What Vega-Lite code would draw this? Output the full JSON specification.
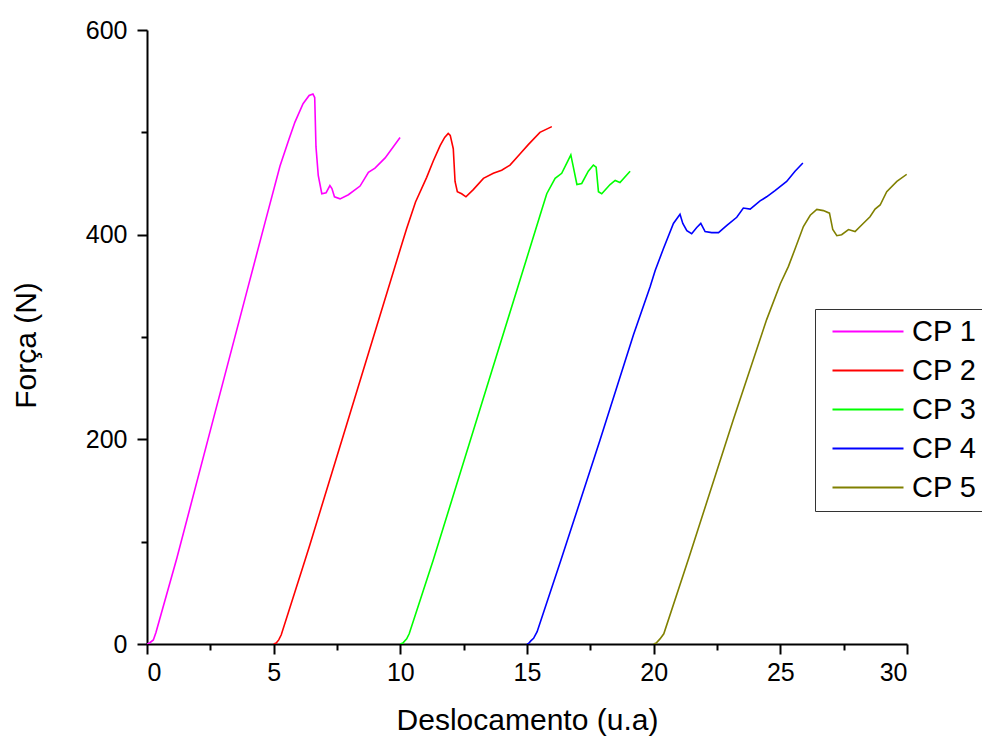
{
  "$schema": "https://vega.github.io/schema/vega-lite/v6.json",
  "autosize": {"type": "none"},
  "width": 760,
  "height": 614,
  "padding": {"left": 147, "top": 30, "right": 75, "bottom": 94},
  "background": "white",
  "config": {"view": {"stroke": null}},
  "data": {"values": [
    {"s": "CP 1", "x": 0, "y": 0}, {"s": "CP 1", "x": 0.1, "y": 1}, {"s": "CP 1", "x": 0.25, "y": 4}, {"s": "CP 1", "x": 0.35, "y": 11},
    {"s": "CP 1", "x": 1.18, "y": 84}, {"s": "CP 1", "x": 2.62, "y": 220}, {"s": "CP 1", "x": 4.0, "y": 350}, {"s": "CP 1", "x": 4.66, "y": 412},
    {"s": "CP 1", "x": 5.25, "y": 467}, {"s": "CP 1", "x": 5.6, "y": 493}, {"s": "CP 1", "x": 5.84, "y": 510}, {"s": "CP 1", "x": 6.16, "y": 528},
    {"s": "CP 1", "x": 6.4, "y": 536}, {"s": "CP 1", "x": 6.55, "y": 537.5}, {"s": "CP 1", "x": 6.62, "y": 534}, {"s": "CP 1", "x": 6.67, "y": 486},
    {"s": "CP 1", "x": 6.76, "y": 458}, {"s": "CP 1", "x": 6.9, "y": 440}, {"s": "CP 1", "x": 7.07, "y": 441}, {"s": "CP 1", "x": 7.22, "y": 448},
    {"s": "CP 1", "x": 7.3, "y": 445}, {"s": "CP 1", "x": 7.4, "y": 437}, {"s": "CP 1", "x": 7.62, "y": 435}, {"s": "CP 1", "x": 7.95, "y": 439},
    {"s": "CP 1", "x": 8.41, "y": 447.5}, {"s": "CP 1", "x": 8.74, "y": 461}, {"s": "CP 1", "x": 9.0, "y": 465}, {"s": "CP 1", "x": 9.4, "y": 475},
    {"s": "CP 1", "x": 9.99, "y": 495},

    {"s": "CP 2", "x": 5.0, "y": 0}, {"s": "CP 2", "x": 5.1, "y": 1}, {"s": "CP 2", "x": 5.2, "y": 4}, {"s": "CP 2", "x": 5.3, "y": 9},
    {"s": "CP 2", "x": 6.24, "y": 82}, {"s": "CP 2", "x": 6.43, "y": 97}, {"s": "CP 2", "x": 8.0, "y": 224}, {"s": "CP 2", "x": 10.0, "y": 386},
    {"s": "CP 2", "x": 10.25, "y": 406}, {"s": "CP 2", "x": 10.6, "y": 432}, {"s": "CP 2", "x": 11.04, "y": 456}, {"s": "CP 2", "x": 11.3, "y": 472},
    {"s": "CP 2", "x": 11.57, "y": 487}, {"s": "CP 2", "x": 11.75, "y": 495}, {"s": "CP 2", "x": 11.89, "y": 499}, {"s": "CP 2", "x": 11.97, "y": 497},
    {"s": "CP 2", "x": 12.09, "y": 484}, {"s": "CP 2", "x": 12.16, "y": 452}, {"s": "CP 2", "x": 12.25, "y": 442}, {"s": "CP 2", "x": 12.42, "y": 440},
    {"s": "CP 2", "x": 12.59, "y": 437}, {"s": "CP 2", "x": 12.88, "y": 444}, {"s": "CP 2", "x": 13.28, "y": 455}, {"s": "CP 2", "x": 13.67, "y": 460},
    {"s": "CP 2", "x": 14.0, "y": 463}, {"s": "CP 2", "x": 14.33, "y": 468}, {"s": "CP 2", "x": 14.73, "y": 479}, {"s": "CP 2", "x": 15.05, "y": 488},
    {"s": "CP 2", "x": 15.51, "y": 500}, {"s": "CP 2", "x": 15.98, "y": 505.6},

    {"s": "CP 3", "x": 10.0, "y": 0}, {"s": "CP 3", "x": 10.1, "y": 1}, {"s": "CP 3", "x": 10.25, "y": 5}, {"s": "CP 3", "x": 10.35, "y": 10},
    {"s": "CP 3", "x": 11.3, "y": 82}, {"s": "CP 3", "x": 13.5, "y": 258}, {"s": "CP 3", "x": 15.58, "y": 424}, {"s": "CP 3", "x": 15.78, "y": 440},
    {"s": "CP 3", "x": 16.11, "y": 455}, {"s": "CP 3", "x": 16.37, "y": 460}, {"s": "CP 3", "x": 16.57, "y": 470}, {"s": "CP 3", "x": 16.73, "y": 478},
    {"s": "CP 3", "x": 16.83, "y": 466}, {"s": "CP 3", "x": 16.97, "y": 449}, {"s": "CP 3", "x": 17.16, "y": 450}, {"s": "CP 3", "x": 17.42, "y": 462},
    {"s": "CP 3", "x": 17.62, "y": 468}, {"s": "CP 3", "x": 17.73, "y": 466}, {"s": "CP 3", "x": 17.82, "y": 442}, {"s": "CP 3", "x": 17.95, "y": 440},
    {"s": "CP 3", "x": 18.28, "y": 449}, {"s": "CP 3", "x": 18.48, "y": 453}, {"s": "CP 3", "x": 18.67, "y": 451}, {"s": "CP 3", "x": 19.07, "y": 462},

    {"s": "CP 4", "x": 15.0, "y": 0}, {"s": "CP 4", "x": 15.06, "y": 0.5}, {"s": "CP 4", "x": 15.15, "y": 3}, {"s": "CP 4", "x": 15.26, "y": 5.5},
    {"s": "CP 4", "x": 15.4, "y": 12}, {"s": "CP 4", "x": 16.34, "y": 82}, {"s": "CP 4", "x": 17.88, "y": 199}, {"s": "CP 4", "x": 19.2, "y": 302},
    {"s": "CP 4", "x": 19.86, "y": 349}, {"s": "CP 4", "x": 20.06, "y": 365}, {"s": "CP 4", "x": 20.38, "y": 386}, {"s": "CP 4", "x": 20.78, "y": 411},
    {"s": "CP 4", "x": 21.04, "y": 420}, {"s": "CP 4", "x": 21.15, "y": 411}, {"s": "CP 4", "x": 21.31, "y": 404}, {"s": "CP 4", "x": 21.5, "y": 401},
    {"s": "CP 4", "x": 21.7, "y": 407}, {"s": "CP 4", "x": 21.86, "y": 411}, {"s": "CP 4", "x": 22.03, "y": 403}, {"s": "CP 4", "x": 22.29, "y": 402},
    {"s": "CP 4", "x": 22.56, "y": 402}, {"s": "CP 4", "x": 22.89, "y": 409}, {"s": "CP 4", "x": 23.28, "y": 417}, {"s": "CP 4", "x": 23.54, "y": 426},
    {"s": "CP 4", "x": 23.81, "y": 425}, {"s": "CP 4", "x": 24.2, "y": 433}, {"s": "CP 4", "x": 24.46, "y": 437}, {"s": "CP 4", "x": 24.79, "y": 443},
    {"s": "CP 4", "x": 25.25, "y": 452}, {"s": "CP 4", "x": 25.58, "y": 462}, {"s": "CP 4", "x": 25.89, "y": 470},

    {"s": "CP 5", "x": 20.0, "y": 0}, {"s": "CP 5", "x": 20.1, "y": 1}, {"s": "CP 5", "x": 20.25, "y": 5}, {"s": "CP 5", "x": 20.4, "y": 10},
    {"s": "CP 5", "x": 21.4, "y": 85}, {"s": "CP 5", "x": 23.14, "y": 219}, {"s": "CP 5", "x": 24.46, "y": 317}, {"s": "CP 5", "x": 25.0, "y": 352},
    {"s": "CP 5", "x": 25.32, "y": 369}, {"s": "CP 5", "x": 25.58, "y": 386}, {"s": "CP 5", "x": 25.91, "y": 408}, {"s": "CP 5", "x": 26.18, "y": 419},
    {"s": "CP 5", "x": 26.44, "y": 424.7}, {"s": "CP 5", "x": 26.7, "y": 423.5}, {"s": "CP 5", "x": 26.94, "y": 421}, {"s": "CP 5", "x": 27.07, "y": 405},
    {"s": "CP 5", "x": 27.23, "y": 399}, {"s": "CP 5", "x": 27.42, "y": 400}, {"s": "CP 5", "x": 27.69, "y": 405}, {"s": "CP 5", "x": 27.95, "y": 403},
    {"s": "CP 5", "x": 28.21, "y": 409.5}, {"s": "CP 5", "x": 28.54, "y": 417.5}, {"s": "CP 5", "x": 28.74, "y": 425}, {"s": "CP 5", "x": 28.94, "y": 429},
    {"s": "CP 5", "x": 29.2, "y": 442}, {"s": "CP 5", "x": 29.6, "y": 452}, {"s": "CP 5", "x": 29.99, "y": 459}
  ]},
  "resolve": {"axis": {"x": "independent", "y": "independent"}},
  "layer": [
    {
      "mark": {"type": "line", "strokeWidth": 1.6, "clip": true},
      "encoding": {
        "x": {"field": "x", "type": "quantitative",
          "scale": {"domain": [0, 30], "nice": false, "zero": false},
          "axis": {"values": [0, 5, 10, 15, 20, 25, 30], "title": "Deslocamento (u.a)", "grid": false,
            "domainColor": "black", "domainWidth": 2, "tickColor": "black", "tickWidth": 2, "tickSize": 10,
            "labelFont": "Liberation Sans", "labelFontSize": 25, "labelColor": "black", "labelPadding": 6,
            "titleFont": "Liberation Sans", "titleFontSize": 30, "titleFontWeight": "normal", "titleColor": "black",
            "titleBaseline": "alphabetic", "titleY": 85}},
        "y": {"field": "y", "type": "quantitative",
          "scale": {"domain": [0, 600], "nice": false, "zero": false},
          "axis": {"values": [0, 200, 400, 600], "title": "Força (N)", "grid": false,
            "domainColor": "black", "domainWidth": 2, "tickColor": "black", "tickWidth": 2, "tickSize": 10,
            "labelFont": "Liberation Sans", "labelFontSize": 25, "labelColor": "black", "labelPadding": 10,
            "titleFont": "Liberation Sans", "titleFontSize": 30, "titleFontWeight": "normal", "titleColor": "black",
            "titleAngle": -90, "titleBaseline": "alphabetic", "titleAlign": "center", "titleX": -112, "titleY": 315}},
        "color": {"field": "s", "type": "nominal",
          "scale": {"domain": ["CP 1", "CP 2", "CP 3", "CP 4", "CP 5"], "range": ["#FF00FF", "#FF0000", "#00FF00", "#0000FF", "#808000"]},
          "legend": {"orient": "none", "legendX": 668, "legendY": 279, "title": null,
            "symbolType": "M-0.5,0H6.6", "symbolSize": 400, "symbolStrokeWidth": 2,
            "labelFont": "Liberation Sans", "labelFontSize": 29, "labelColor": "black", "labelOffset": 60, "labelLimit": 0,
            "rowPadding": 9, "padding": 8, "strokeColor": "#333333", "fillColor": "white"}}
      }
    },
    {
      "mark": {"type": "line", "opacity": 0},
      "encoding": {
        "x": {"field": "x", "type": "quantitative",
          "axis": {"orient": "bottom", "values": [2.5, 7.5, 12.5, 17.5, 22.5, 27.5], "labels": false, "domain": false, "grid": false,
            "tickColor": "black", "tickWidth": 2, "tickSize": 6, "title": null}},
        "y": {"field": "y", "type": "quantitative",
          "axis": {"orient": "left", "values": [100, 300, 500], "labels": false, "domain": false, "grid": false,
            "tickColor": "black", "tickWidth": 2, "tickSize": 6, "title": null}},
        "detail": {"field": "s"}
      }
    }
  ]
}
